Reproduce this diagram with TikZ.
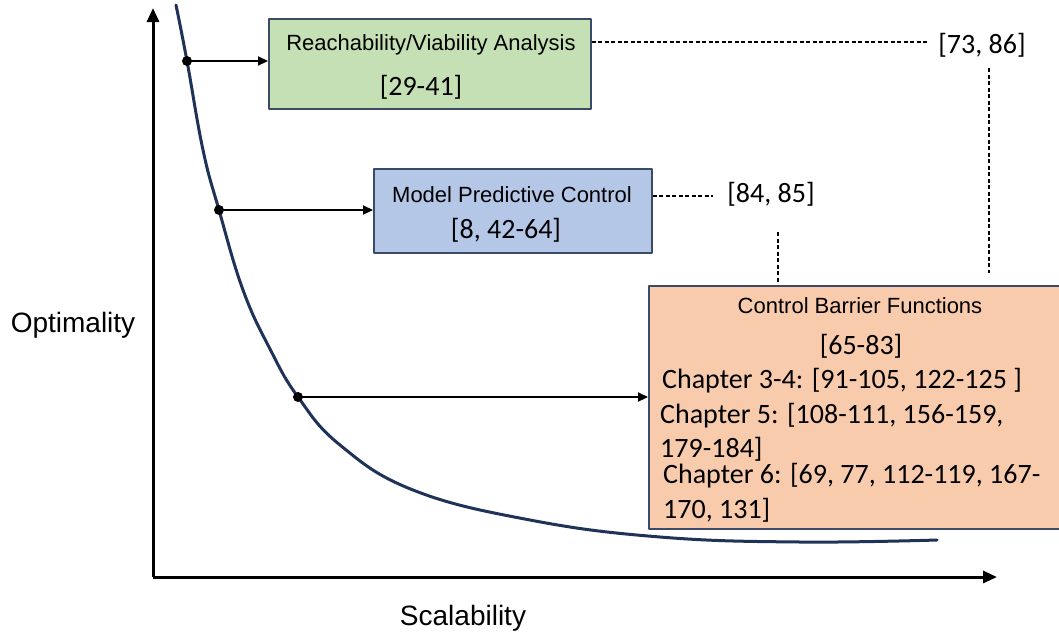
\documentclass[tikz,border=0pt]{standalone}
\usepackage{fontspec}
\setmainfont{Liberation Sans}
\newfontfamily\numfont{Carlito}
\usetikzlibrary{arrows.meta}
\definecolor{boxline}{HTML}{3B4A66}
\definecolor{curvecol}{HTML}{1F3257}
\definecolor{greenbox}{HTML}{C5E0B4}
\definecolor{bluebox}{HTML}{B4C7E7}
\definecolor{orangebox}{HTML}{F8CBAD}
\newcommand{\titlesize}{\fontsize{22}{26}\selectfont}
\newcommand{\refsize}{\numfont\fontsize{28}{32}\selectfont}
\newcommand{\axsize}{\fontsize{28}{32}\selectfont}

\begin{document}
\begin{tikzpicture}[x=1pt,y=-1pt,line join=round,>={Triangle[length=10pt,width=9pt]}]
	\tikzset{every node/.style={inner sep=0pt},
		box/.style={draw=boxline,line width=1.5pt,anchor=north west},
		title/.style={anchor=base,font=\titlesize},
		refs/.style={anchor=base,font=\refsize},
		dashline/.style={line width=1.2pt,dash pattern=on 4pt off 2.5pt},
		axis/.style={line width=3pt,-{Triangle[length=14pt,width=12pt]}}}
	\useasboundingbox (0,0) rectangle (1059,632);
	% axes
	\coordinate (O) at (153,577);
	\draw[axis] (O) -- (153,8);
	\draw[axis] (O) -- (997,577);
	\node[anchor=base,font=\axsize] (yl) at (73,332) {Optimality};
	\node[anchor=base,font=\axsize] (xl) at (463,625) {Scalability};
	% trade-off curve
	\draw[curvecol,line width=3pt,line cap=round] plot[smooth,tension=0.7] coordinates {(176,5) (187,61) (203,150) (219,210) (243,290) (270,349) (298,397) (340,445) (413,490) (530,520) (660,537) (800,542) (937,540)};
	% method boxes
	\node[box,fill=greenbox,minimum width=322pt,minimum height=90pt] (reach) at (268,18) {};
	\node[box,fill=bluebox,minimum width=278pt,minimum height=84pt] (mpc) at (373,168) {};
	\node[box,fill=orangebox,minimum width=414pt,minimum height=243pt] (cbf) at (648,285) {};
	\node[title] (reachT) at (431,50) {Reachability/Viability Analysis};
	\node[refs] (reachR) at (421,95) {[29-41]};
	\node[title] (mpcT) at (512,202) {Model Predictive Control};
	\node[refs] (mpcR) at (506,238) {[8, 42-64]};
	\node[title] (cbfT) at (860,313) {Control Barrier Functions};
	\node[refs] (cbfR) at (861,354) {[65-83]};
	\foreach \x/\y/\t [count=\i] in {662/388/{Chapter 3-4: [91-105, 122-125 ]},660/423/{Chapter 5: [108-111, 156-159,},660/457/{179-184]},663/483/{Chapter 6: [69, 77, 112-119, 167-},663/518/{170, 131]}}
		\node[refs,anchor=base west] (ch\i) at (\x,\y) {\t};
	% points on the curve
	\foreach \px/\py/\b in {187/61/reach,219/210/mpc,298/397/cbf}{
		\coordinate (dot\b) at (\px,\py);
		\fill (dot\b) circle[radius=5pt];
		\draw[->,line width=2.2pt] (dot\b) -- (\b.west |- dot\b);
	}
	% shared references
	\node[refs] (both1) at (982,53) {[73, 86]};
	\node[refs] (both2) at (771,202) {[84, 85]};
	\coordinate (v1) at (989,273);
	\coordinate (v2) at (778,283);
	\draw[dashline] (reach.east |- 0,42) -- ([xshift=-10pt]both1.west |- 0,42);
	\draw[dashline] (mpc.east |- 0,196) -- ([xshift=-14pt]both2.west |- 0,196);
	\draw[dashline] (v1 |- 0,68) -- (v1);
	\draw[dashline] (v2 |- 0,232) -- (v2);
\end{tikzpicture}
\end{document}
